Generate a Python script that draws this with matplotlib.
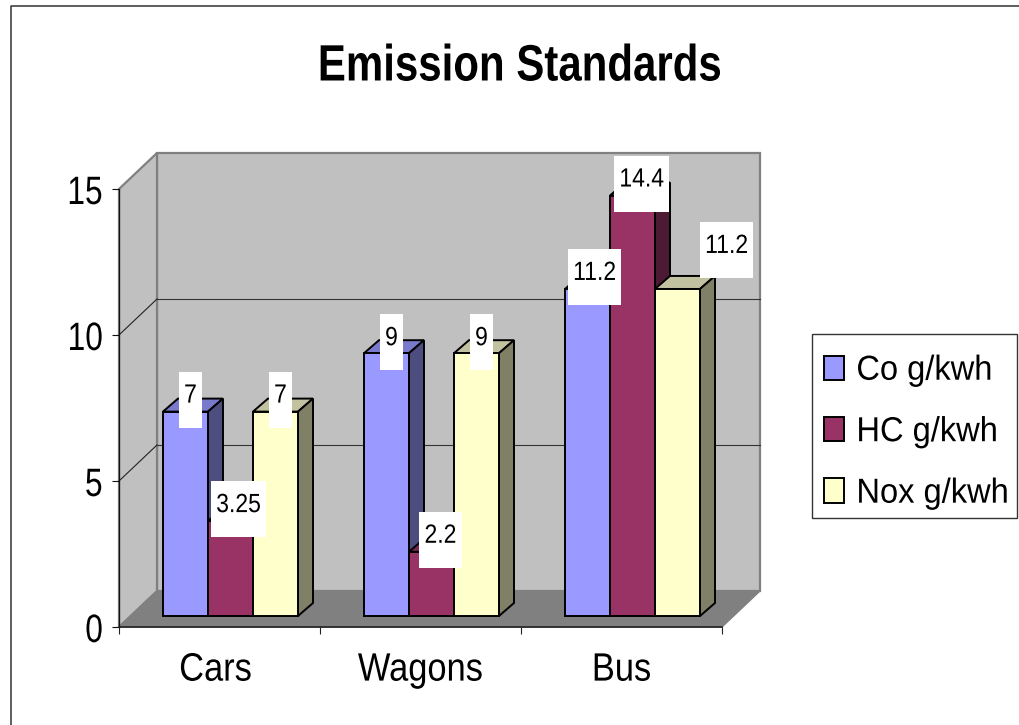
import matplotlib
matplotlib.use("Agg")
import matplotlib.pyplot as plt
from matplotlib.legend_handler import HandlerPatch
from matplotlib.lines import Line2D
from matplotlib.patches import Patch, Polygon, Rectangle
from matplotlib.patheffects import AbstractPathEffect
from matplotlib.transforms import Affine2D, IdentityTransform

plt.rcParams["font.family"] = ["Liberation Sans"]

categories = ["Cars", "Wagons", "Bus"]
series_names = ["Co g/kwh", "HC g/kwh", "Nox g/kwh"]
co_values = [7, 9, 11.2]
hc_values = [3.25, 2.2, 14.4]
nox_values = [7, 9, 11.2]
y_ticks = [0, 5, 10, 15]

face_colors = ["#9999FF", "#993366", "#FFFFCC"]
top_colors = ["#7A7ACC", "#7A2952", "#C2C2A0"]
side_colors = ["#4D4D80", "#4D1A33", "#808066"]

# Pixel nudges of each value label from the top centre of its bar
label_dx = [[5, 8, 5], [5, 9, 5], [7, 9, 49]]
label_dy = [[16, 16, 16], [15, 16, 15], [16, 16, 43]]


class Condensed(AbstractPathEffect):
    """Squeeze text horizontally about one of its edges or its centre."""

    def __init__(self, sx, pivot="center", shift=0, lift=0):
        super().__init__()
        self.sx, self.pivot, self.shift, self.lift = sx, pivot, shift, lift

    def draw_path(self, renderer, gc, tpath, affine, rgbFace=None):
        ext = tpath.get_extents()
        px = {"left": ext.x0, "center": (ext.x0 + ext.x1) / 2, "right": ext.x1}[self.pivot]
        cx = affine.transform_point((px, 0))[0]
        squeezed = affine + (Affine2D().translate(-cx, 0).scale(self.sx, 1)
                             .translate(cx + self.shift, self.lift))
        renderer.draw_path(gc, tpath, squeezed, rgbFace)


W, H, DPI = 1019, 725, 100
fig = plt.figure(figsize=(W / DPI, H / DPI), dpi=DPI, facecolor="white")
ax = fig.add_axes([119 / W, 1 - 627 / H, (722 - 119) / W, (627 - 189) / H])
ax.set_xlim(0, 3)
ax.set_ylim(0, 15)
ax.patch.set_visible(False)
for spine in ax.spines.values():
    spine.set_visible(False)

# Pseudo-3D planes: shifted copies of the data transform, in pixels
back = ax.transData + Affine2D().translate(38, 36)
plane = ax.transData + Affine2D().translate(11, 11)
DEPTH_X, DEPTH_Y = 15, 13
px_x = 3 / (722 - 119)
px_y = 15 / (627 - 189)

WALL = "#C0C0C0"
EDGE = "#808080"
FLOOR = "#808080"

# Back wall
ax.add_patch(Rectangle((0, 0), 3, 15, transform=back, facecolor=WALL,
                       edgecolor=EDGE, linewidth=1.6, clip_on=False, zorder=1))
# Left wall, expressed in data units with the depth shift added
dx_back, dy_back = 38 * px_x, 36 * px_y
ax.add_patch(Polygon([(0, 0), (dx_back, dy_back), (dx_back, 15 + dy_back), (0, 15)],
                     closed=True, facecolor=WALL, edgecolor=EDGE, linewidth=1.6,
                     clip_on=False, zorder=1))
# Floor
ax.add_patch(Polygon([(0, 0), (3, 0), (3 + dx_back, dy_back), (dx_back, dy_back)],
                     closed=True, facecolor=FLOOR, edgecolor=FLOOR, linewidth=1,
                     clip_on=False, zorder=1.5))

# Gridlines along the left and back walls
for v in y_ticks[1:-1]:
    ax.plot([0, dx_back], [v, v + dy_back], color="#222222", lw=0.8, clip_on=False, zorder=2)
    ax.plot([0, 3], [v, v], color="#333333", lw=0.8, transform=back, clip_on=False, zorder=2)

# Front axis lines
ax.plot([0, 0], [0, 15], color="#111111", lw=0.9, clip_on=False, zorder=3)
ax.plot([0, 3], [0, 0], color="#222222", lw=1.2, clip_on=False, zorder=3)

ax.set_yticks(y_ticks)
ax.set_xticks([0, 1, 2, 3])
ax.set_xticklabels([])
ax.set_xticks([0.5, 1.5, 2.5], labels=categories, minor=True)
ax.tick_params(axis="y", length=5, width=0.8, pad=6.5, labelsize=28.5, color="#111111")
ax.tick_params(axis="x", which="major", length=5, width=0.8, color="#222222")
ax.tick_params(axis="x", which="minor", length=0, pad=17, labelsize=28.5)
for lbl in ax.get_yticklabels():
    lbl.set_path_effects([Condensed(0.8, "right")])
for lbl, nudge in zip(ax.get_xticklabels(minor=True), [-4, 0, 0]):
    lbl.set_path_effects([Condensed(0.87, "center", nudge)])

# Clustered boxes
all_values = [co_values, hc_values, nox_values]
bar_w = 45 / 201
group_left = 0.5 - 1.5 * bar_w
LW = 1.4
for s, values in enumerate(all_values):
    z = 5 + s
    lefts = [i + group_left + s * bar_w for i in range(len(categories))]
    ax.bar(lefts, values, width=bar_w, align="edge", bottom=0, transform=plane,
           color=face_colors[s], edgecolor="black", linewidth=LW, clip_on=False, zorder=z + 0.5)
    for x0, v in zip(lefts, values):
        x1 = x0 + bar_w
        ox, oy = DEPTH_X * px_x, DEPTH_Y * px_y
        ax.add_patch(Polygon([(x0, v), (x1, v), (x1 + ox, v + oy), (x0 + ox, v + oy)],
                             closed=True, transform=plane, facecolor=top_colors[s],
                             edgecolor="black", linewidth=LW, clip_on=False, zorder=z))
        ax.add_patch(Polygon([(x1, 0), (x1 + ox, oy), (x1 + ox, v + oy), (x1, v)],
                             closed=True, transform=plane, facecolor=side_colors[s],
                             edgecolor="black", linewidth=LW, clip_on=False, zorder=z))

# Value labels sitting on white boxes
LABEL_SQUEEZE = 0.87
renderer = fig.canvas.get_renderer()
for s, values in enumerate(all_values):
    for i, v in enumerate(values):
        xc = i + group_left + (s + 0.5) * bar_w
        dx, dy = label_dx[i][s], label_dy[i][s]
        txt = ax.annotate(f"{v:g}", xy=(xc, v), xycoords=plane, xytext=(dx, dy),
                          textcoords="offset pixels", ha="center", va="center",
                          fontsize=19, color="black", annotation_clip=False, zorder=21)
        txt.set_path_effects([Condensed(LABEL_SQUEEZE)])
        ax_px, ay_px = plane.transform((xc, v))
        tw = txt.get_window_extent(renderer).width * LABEL_SQUEEZE
        bw, bh = tw + 11, 56
        ax.add_patch(Rectangle((ax_px + dx - bw / 2, ay_px + dy - 4 - bh / 2), bw, bh,
                               transform=IdentityTransform(), facecolor="white",
                               edgecolor="none", clip_on=False, zorder=20))


def legend_swatch(legend, orig_handle, xdescent, ydescent, width, height, fontsize):
    # Swatch sits a little left of and below the default slot
    return Rectangle((-xdescent - 2.0 * 0.72, -ydescent - 5.5 * 0.72), width, height)


# Legend: "expand" holds the frame to the anchor box width
handles = [Patch(facecolor=c, edgecolor="black", linewidth=1.4) for c in face_colors]
leg = ax.legend(handles, series_names, loc="upper left",
                bbox_to_anchor=(812 / W, 1 - 517 / H, 205 / W, 183 / H),
                bbox_transform=fig.transFigure, mode="expand", fontsize=25, frameon=True,
                fancybox=False, framealpha=1, edgecolor="#333333", handlelength=0.576,
                handleheight=0.69, handletextpad=0.346, labelspacing=0.82, borderpad=0.41,
                borderaxespad=0, handler_map={Patch: HandlerPatch(patch_func=legend_swatch)})
leg.get_frame().set_linewidth(1.0)
leg.set_zorder(30)
for t in leg.get_texts():
    t.set_path_effects([Condensed(0.94, "left", -2, -5.5)])

title = fig.text(520 / W, 1 - 67 / H, "Emission Standards", ha="center", va="center",
                 fontsize=36.8, fontweight="bold", color="black")
title.set_path_effects([Condensed(0.822)])

# Outer chart border running off the right and bottom edges
fig.add_artist(Line2D([11 / W, 11 / W, 1], [0, 1 - 6 / H, 1 - 6 / H],
                      color="#333333", lw=1.1))

fig.savefig("out.png", dpi=DPI, facecolor="white")
